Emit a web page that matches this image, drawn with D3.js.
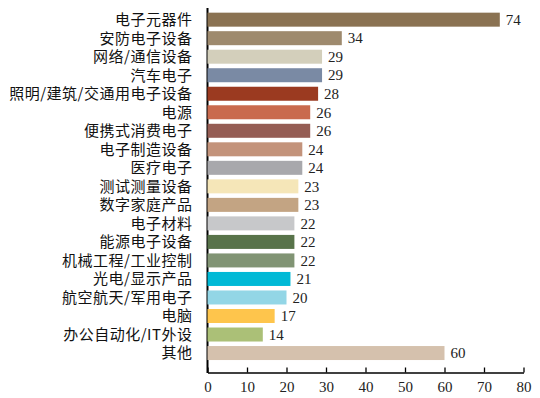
<!DOCTYPE html>
<html><head><meta charset="utf-8">
<script src="https://cdn.jsdelivr.net/npm/d3@7"></script>
<style>
html,body{margin:0;padding:0;background:#fff;}
svg{display:block;}
</style></head>
<body>
<svg id="chart" width="540" height="398"></svg>
<script>
const categories = ["电子元器件","安防电子设备","网络/通信设备","汽车电子","照明/建筑/交通用电子设备","电源","便携式消费电子","电子制造设备","医疗电子","测试测量设备","数字家庭产品","电子材料","能源电子设备","机械工程/工业控制","光电/显示产品","航空航天/军用电子","电脑","办公自动化/IT外设","其他"];
const values = [74,34,29,29,28,26,26,24,24,23,23,22,22,22,21,20,17,14,60];
const colors = ["#8a7252","#9e8a6e","#d3cfbb","#7a8aa4","#9b3a20","#c96a4e","#955d54","#c3937b","#a8a8ac","#f5e6b8","#c3a483","#c7c8ca","#58734a","#819474","#00b9d6","#93d6e6","#fec54c","#abc077","#d5c1ad"];
const xTicks = [0,10,20,30,40,50,60,70,80];

const svg = d3.select("#chart");
const fontStack = "'Liberation Serif','Noto Sans CJK SC',serif";
const x = d3.scaleLinear().domain([0,80]).range([207.5,523.5]);
const y = d3.scaleBand().domain(categories).range([10.4,362.3]).paddingInner(0.244).paddingOuter(0.122);

// y axis line (drawn first so bars cover its right half)
svg.append("line").attr("x1",x(0)).attr("x2",x(0)).attr("y1",8).attr("y2",373)
  .attr("stroke","#000").attr("stroke-width",2);

// x axis
const xAxis = d3.axisBottom(x).tickValues(xTicks).tickSizeInner(-5).tickSizeOuter(0).tickPadding(9);
const gx = svg.append("g").attr("transform","translate(0,372.5)").call(xAxis);
gx.select(".domain").attr("stroke","#000").attr("stroke-width",1.3);
gx.selectAll(".tick line").attr("stroke","#000").attr("stroke-width",1.3);
gx.selectAll(".tick text").attr("font-family",fontStack).attr("font-size",15).attr("fill","#222");

// bars
svg.append("g").selectAll("rect").data(categories).join("rect")
  .attr("x", x(0))
  .attr("y", d => y(d))
  .attr("width", (d,i) => x(values[i]) - x(0))
  .attr("height", y.bandwidth())
  .attr("fill", (d,i) => colors[i]);

// value labels
svg.append("g").selectAll("text").data(categories).join("text")
  .attr("x", (d,i) => x(values[i]) + 6)
  .attr("y", d => y(d) + y.bandwidth()/2)
  .attr("dy", "0.35em")
  .attr("font-family", fontStack)
  .attr("font-size", 15)
  .attr("fill", "#222")
  .text((d,i) => values[i]);

// category labels
svg.append("g").selectAll("text").data(categories).join("text")
  .attr("x", 192.5)
  .attr("y", d => y(d) + y.bandwidth()/2)
  .attr("dy", "0.36em")
  .attr("text-anchor", "end")
  .attr("font-family", "'Noto Sans CJK SC','Liberation Serif',sans-serif")
  .attr("font-size", 15)
  .attr("letter-spacing", "0.5px")
  .attr("fill", "#111")
  .text(d => d);
</script>
</body></html>
